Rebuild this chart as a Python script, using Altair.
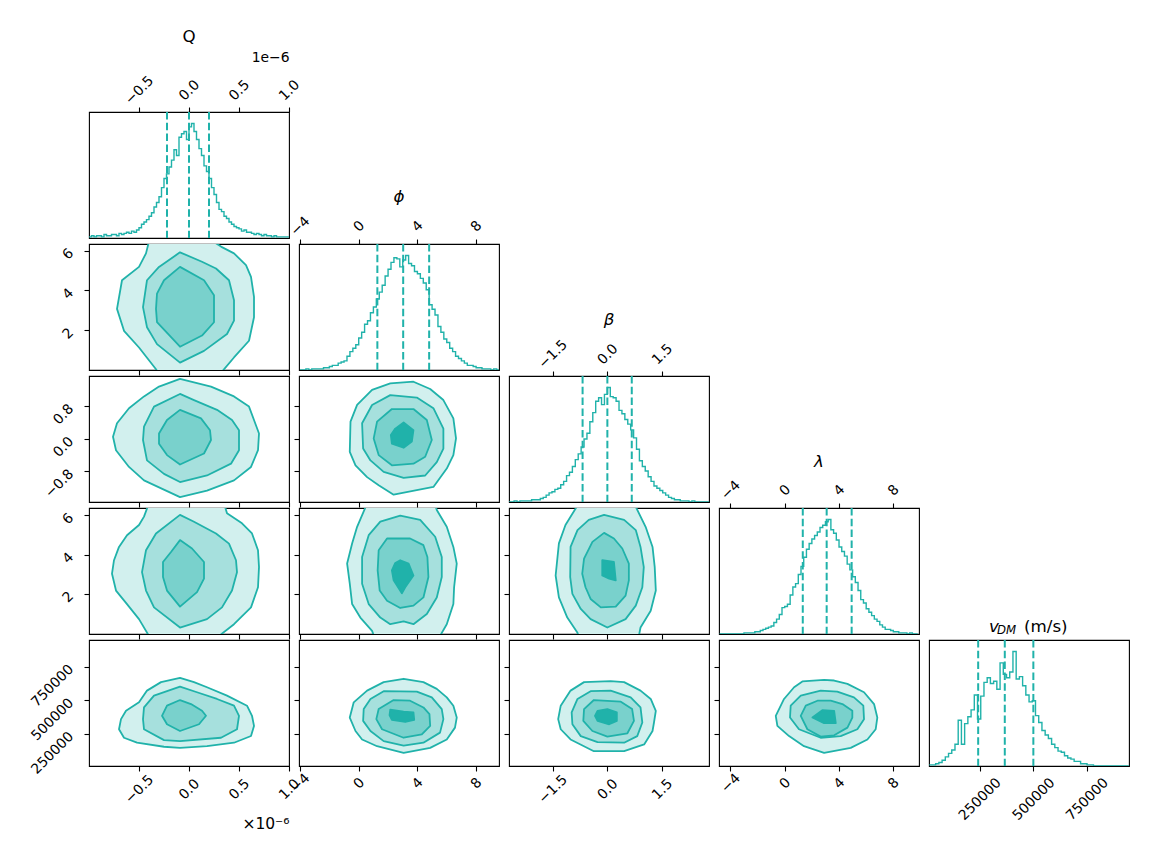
import altair as alt
import pandas as pd

FONT = "DejaVu Sans"
TEAL = "#20b2aa"
FILLS = ["#d2f0ee", "#a6e0dd", "#79d1cc", "#20b2aa"]
W, H = 200, 126
LABEL_SIZE = 13.9
TITLE_SIZE = 16.7
MINUS = "replace(datum.label, '-', '\u2212')"

# ---------------- axis ranges and ticks (Q in units of 1e-6) ----------------
X_DOM = [[-1.0, 1.0], [-4.07, 9.56], [-2.70, 2.79], [-4.84, 9.89], [14000, 945500]]
Y_DOM = [[0, 1], [0.0, 6.33], [-1.55, 1.54], [-0.06, 6.38], [12000, 948000]]
X_TICKS = [[-0.5, 0.0, 0.5, 1.0], [-4, 0, 4, 8], [-1.5, 0.0, 1.5], [-4, 0, 4, 8], [250000, 500000, 750000]]
Y_TICKS = [[], [2, 4, 6], [-0.8, 0.0, 0.8], [2, 4, 6], [250000, 500000, 750000]]
X_FMT = [".1f", "d", ".1f", "d", "d"]
Y_FMT = ["d", "d", ".1f", "d", "d"]

# ---------------- 1-D histograms (relative counts, max = 100) ----------------
Q_START, Q_WIDTH = -1.0, 0.025
Q_COUNTS = [1, 2, 1, 2, 2, 1, 3, 2, 2, 3,
            3, 2, 4, 3, 4, 5, 4, 6, 5, 7,
            9, 12, 14, 16, 19, 22, 27, 31,
            36, 44, 52, 56, 62, 68, 77, 72, 88, 91, 93, 86,
            97, 100, 93, 86, 78, 72, 63, 58, 52, 44,
            38, 31, 25, 23, 19, 17, 14, 12, 10, 9,
            8, 6, 7, 5, 5, 4, 3, 4, 3, 2,
            3, 2, 2, 1, 2, 1, 1, 1, 1, 1]

PHI_START, PHI_WIDTH = -4.0, 0.2
PHI_COUNTS = [0, 0, 1, 0, 1, 1, 1, 1, 2, 2,
              3, 4, 4, 6, 7, 8, 12, 16, 19, 22,
              28, 33, 40, 43, 50, 55, 62, 68, 74, 82,
              88, 94, 98, 97, 90, 96, 100, 93, 91, 86,
              84, 80, 76, 70, 57, 53, 48, 38, 33, 27,
              24, 19, 16, 12, 10, 8, 6, 4, 4, 3,
              2, 2, 1, 1, 1, 0, 1, 0]

BETA_START, BETA_WIDTH = -2.72, 0.08
BETA_COUNTS = [0, 0, 1, 0, 1, 1, 1, 1, 2, 2,
               2, 3, 4, 6, 8, 9, 11, 12, 15, 18,
               23, 26, 31, 37, 42, 48, 55, 60, 70, 78,
               88, 91, 85, 94, 100, 92, 91, 88, 80, 77,
               72, 68, 63, 56, 46, 36, 31, 27, 22, 18,
               14, 12, 10, 8, 6, 4, 3, 2, 2, 1,
               1, 1, 0, 1, 0, 0, 0, 0, 0]

LAM_START, LAM_WIDTH = -4.8, 0.2
LAM_COUNTS = [0, 0, 0, 0, 0, 0, 0, 0, 0, 1,
              1, 1, 1, 2, 2, 3, 4, 5, 6, 7,
              10, 13, 17, 23, 24, 26, 34, 41, 44, 52,
              59, 67, 74, 79, 83, 86, 89, 93, 95, 98,
              100, 91, 88, 82, 76, 72, 68, 61, 56, 50,
              45, 38, 30, 27, 22, 19, 16, 13, 11, 8,
              6, 4, 4, 3, 2, 2, 1, 1, 1, 0,
              1, 0, 0]

V_START, V_WIDTH = 15000, 15000
V_COUNTS = [1, 1, 2, 3, 5, 8, 11, 14, 19, 40,
            19, 37, 43, 49, 62, 41, 61, 73, 77, 72,
            74, 67, 90, 80, 77, 82, 100, 76, 78, 70,
            62, 56, 57, 44, 38, 31, 27, 24, 19, 16,
            13, 12, 9, 7, 6, 4, 4, 2, 2, 1,
            1, 0, 0, 0, 0, 0, 0, 0, 0, 0,
            0, 0]

HISTS = [(Q_START, Q_WIDTH, Q_COUNTS), (PHI_START, PHI_WIDTH, PHI_COUNTS),
         (BETA_START, BETA_WIDTH, BETA_COUNTS), (LAM_START, LAM_WIDTH, LAM_COUNTS),
         (V_START, V_WIDTH, V_COUNTS)]

# 16 / 50 / 84 % quantiles
Q_QUANT = [-0.22, 0.0, 0.20]
PHI_QUANT = [1.27, 3.03, 4.80]
BETA_QUANT = [-0.68, 0.0, 0.67]
LAM_QUANT = [1.33, 3.09, 4.93]
V_QUANT = [243000, 367000, 500000]
QUANTS = [Q_QUANT, PHI_QUANT, BETA_QUANT, LAM_QUANT, V_QUANT]

# ---------------- 2-D contour outlines (outer -> inner) ----------------
QPHI_1 = [(-0.38, 6.87), (-0.43, 5.86), (-0.50, 5.18), (-0.67, 4.51), (-0.72, 3.07), (-0.65, 1.97), (-0.50, 1.13),
          (-0.33, 0.04), (-0.28, -0.38), (-0.02, -0.55), (0.28, -0.38), (0.45, 0.63), (0.60, 1.47), (0.65, 2.65),
          (0.65, 3.67), (0.62, 4.68), (0.57, 5.27), (0.45, 5.86), (0.32, 6.20), (0.22, 6.53), (-0.08, 6.87)]
QPHI_2 = [(-0.09, 5.91), (-0.30, 5.18), (-0.42, 4.51), (-0.46, 3.16), (-0.42, 2.15), (-0.32, 1.30), (-0.09, 0.37),
          (0.15, 0.96), (0.38, 1.81), (0.45, 2.48), (0.45, 3.50), (0.40, 4.51), (0.27, 5.10), (0.13, 5.44)]
QPHI_3 = [(-0.09, 5.18), (-0.25, 4.51), (-0.32, 3.84), (-0.33, 3.07), (-0.32, 2.40), (-0.09, 1.17), (0.13, 1.73),
          (0.25, 2.40), (0.25, 3.75), (0.15, 4.51)]

QBETA_1 = [(-0.09, 1.47), (-0.30, 1.28), (-0.45, 1.04), (-0.60, 0.75), (-0.72, 0.38), (-0.76, 0.05), (-0.73, -0.28),
           (-0.60, -0.69), (-0.45, -1.02), (-0.09, -1.43), (0.18, -1.27), (0.45, -1.02), (0.62, -0.69),
           (0.69, -0.28), (0.70, 0.13), (0.65, 0.46), (0.60, 0.79), (0.45, 1.04), (0.22, 1.28)]
QBETA_2 = [(-0.09, 1.10), (-0.35, 0.79), (-0.45, 0.30), (-0.46, -0.03), (-0.42, -0.53), (-0.25, -0.86),
           (-0.09, -1.06), (0.18, -0.90), (0.42, -0.61), (0.50, -0.28), (0.50, 0.21), (0.43, 0.46), (0.28, 0.71),
           (0.05, 0.95)]
QBETA_3 = [(-0.09, 0.71), (-0.22, 0.46), (-0.30, 0.13), (-0.30, -0.12), (-0.22, -0.40), (-0.09, -0.63),
           (0.15, -0.36), (0.22, -0.03), (0.21, 0.21), (0.12, 0.50)]

QLAM_1 = [(-0.40, 6.63), (-0.45, 5.94), (-0.50, 5.51), (-0.62, 4.99), (-0.70, 4.39), (-0.75, 3.71), (-0.77, 3.02),
          (-0.73, 2.16), (-0.62, 1.47), (-0.50, 0.70), (-0.40, -0.16), (-0.37, -0.59), (0.28, -0.59), (0.30, -0.16),
          (0.45, 0.44), (0.62, 1.30), (0.69, 2.33), (0.70, 3.36), (0.69, 4.22), (0.63, 5.08), (0.53, 5.60),
          (0.38, 6.11), (0.35, 6.63)]
QLAM_2 = [(-0.09, 6.03), (-0.33, 5.08), (-0.43, 4.22), (-0.47, 3.10), (-0.43, 2.16), (-0.35, 1.30), (-0.09, 0.27),
          (0.18, 0.70), (0.33, 1.30), (0.43, 2.16), (0.48, 3.10), (0.47, 3.71), (0.40, 4.56), (0.27, 5.08),
          (0.05, 5.68)]
QLAM_3 = [(-0.09, 4.74), (-0.18, 4.13), (-0.26, 3.62), (-0.26, 2.85), (-0.22, 2.16), (-0.09, 1.34), (0.08, 2.08),
          (0.15, 2.77), (0.15, 3.62), (0.03, 4.31)]

QV_1 = [(-0.09, 667000), (-0.28, 635000), (-0.42, 572000), (-0.50, 485000), (-0.63, 422000), (-0.68, 360000),
        (-0.70, 285000), (-0.65, 222000), (-0.52, 185000), (-0.25, 155000), (-0.09, 147000), (0.18, 160000),
        (0.45, 185000), (0.62, 235000), (0.65, 310000), (0.63, 385000), (0.58, 460000), (0.38, 535000),
        (0.18, 597000), (0.05, 635000)]
QV_2 = [(-0.09, 602000), (-0.35, 535000), (-0.45, 447000), (-0.46, 360000), (-0.45, 285000), (-0.25, 204000),
        (-0.09, 197000), (0.32, 222000), (0.48, 285000), (0.50, 385000), (0.45, 460000), (0.28, 510000),
        (0.08, 560000)]
QV_3 = [(-0.09, 502000), (-0.22, 460000), (-0.27, 385000), (-0.22, 322000), (-0.09, 272000), (0.10, 322000),
        (0.17, 385000), (0.13, 422000), (0.02, 472000)]

PB_1 = [(2.15, 1.36), (0.91, 1.20), (-0.11, 0.83), (-0.56, 0.42), (-0.61, -0.32), (-0.22, -0.65), (0.57, -0.94),
        (1.36, -1.14), (2.38, -1.37), (5.09, -1.18), (6.00, -0.73), (6.45, -0.40), (6.63, 0.01), (6.45, 0.50),
        (5.77, 0.95), (4.87, 1.22), (3.73, 1.40)]
PB_2 = [(2.15, 1.07), (0.91, 0.83), (0.23, 0.38), (0.30, -0.24), (0.80, -0.53), (1.70, -0.81), (3.06, -0.96),
        (4.53, -0.90), (5.32, -0.57), (5.77, -0.24), (5.77, 0.25), (5.09, 0.75), (3.96, 1.01)]
PB_3 = [(2.26, 0.73), (1.25, 0.42), (1.02, 0.01), (1.36, -0.40), (2.26, -0.65), (3.73, -0.61), (4.53, -0.44),
        (4.98, -0.03), (4.64, 0.46), (3.73, 0.73)]
PB_4 = [(3.06, 0.40), (2.49, 0.25), (2.19, 0.09), (2.26, -0.12), (3.06, -0.22), (3.62, -0.07), (3.73, 0.21)]

PL_1 = [(0.68, 6.80), (-0.11, 5.42), (-0.45, 4.57), (-0.79, 3.54), (-0.61, 2.51), (-0.45, 1.47), (0.11, 0.78),
        (0.91, 0.10), (1.25, -0.59), (5.21, -0.59), (6.00, 0.44), (6.45, 1.47), (6.50, 2.33), (6.68, 3.54),
        (6.45, 4.39), (6.00, 5.42), (5.32, 6.28), (5.09, 6.80)]
PL_2 = [(2.83, 5.99), (1.47, 5.68), (0.68, 4.99), (0.23, 3.88), (0.23, 2.51), (0.68, 1.47), (1.47, 0.78),
        (2.15, 0.44), (3.06, 0.58), (3.73, 0.44), (4.64, 0.96), (5.32, 1.81), (5.66, 2.85), (5.66, 3.88),
        (5.21, 4.91), (4.19, 5.77)]
PL_3 = [(1.93, 4.82), (1.36, 4.22), (1.29, 3.19), (1.43, 2.16), (1.93, 1.64), (2.83, 1.27), (3.73, 1.39),
        (4.41, 1.81), (4.75, 2.85), (4.68, 3.88), (4.41, 4.48), (3.50, 4.82)]
PL_4 = [(2.83, 3.71), (3.40, 3.54), (3.73, 2.93), (3.17, 2.33), (2.94, 2.02), (2.38, 2.68), (2.26, 3.19),
        (2.49, 3.57)]

PV_1 = [(3.06, 660000), (1.70, 635000), (0.57, 572000), (-0.34, 485000), (-0.61, 372000), (-0.22, 272000),
        (0.23, 209000), (1.25, 159000), (3.06, 110000), (4.87, 147000), (6.00, 209000), (6.56, 297000),
        (6.68, 372000), (6.45, 460000), (6.00, 522000), (5.32, 585000), (4.41, 635000)]
PV_2 = [(1.70, 568000), (0.80, 510000), (0.34, 435000), (0.30, 347000), (0.80, 272000), (1.70, 197000),
        (3.06, 164000), (4.41, 185000), (5.54, 260000), (5.77, 360000), (5.66, 435000), (4.98, 522000),
        (3.96, 565000)]
PV_3 = [(2.38, 502000), (1.36, 435000), (1.20, 360000), (1.59, 285000), (3.06, 222000), (4.30, 247000),
        (4.87, 310000), (4.82, 397000), (4.41, 447000), (3.50, 497000)]
PV_4 = [(2.15, 430000), (3.06, 415000), (3.73, 410000), (3.78, 354000), (3.17, 339000), (2.26, 354000),
        (2.10, 390000)]

BL_1 = [(-0.78, 6.63), (-1.15, 5.51), (-1.33, 4.57), (-1.42, 2.93), (-1.33, 1.81), (-1.10, 0.78), (-0.82, 0.01),
        (-0.73, -0.59), (0.82, -0.59), (0.91, 0.27), (1.19, 1.13), (1.33, 2.16), (1.30, 3.36), (1.24, 4.39),
        (1.05, 5.42), (0.73, 6.63)]
BL_2 = [(-0.09, 6.03), (-0.51, 5.77), (-0.82, 5.25), (-1.01, 4.39), (-1.02, 2.85), (-0.96, 1.99), (-0.73, 1.22),
        (-0.46, 0.70), (0.0, 0.27), (0.50, 0.70), (0.78, 1.39), (0.96, 2.33), (1.00, 3.36), (0.91, 4.39),
        (0.78, 5.25), (0.46, 5.77)]
BL_3 = [(-0.09, 5.11), (-0.41, 4.65), (-0.64, 3.79), (-0.69, 3.02), (-0.60, 2.33), (-0.46, 1.73), (-0.18, 1.30),
        (0.23, 1.34), (0.50, 1.90), (0.59, 2.68), (0.59, 3.54), (0.41, 4.31), (0.18, 4.82)]
BL_4 = [(-0.14, 3.71), (0.18, 3.62), (0.23, 2.68), (0.05, 2.77), (-0.14, 2.93)]

BV_1 = [(0.09, 643000), (-0.64, 635000), (-1.01, 572000), (-1.28, 460000), (-1.35, 360000), (-1.28, 285000),
        (-1.01, 209000), (-0.37, 122000), (0.46, 122000), (1.01, 172000), (1.24, 272000), (1.28, 335000),
        (1.33, 422000), (1.19, 510000), (0.91, 572000), (0.46, 635000)]
BV_2 = [(-0.46, 568000), (-0.82, 510000), (-0.98, 410000), (-0.96, 322000), (-0.73, 234000), (-0.27, 189000),
        (0.46, 185000), (0.82, 234000), (0.96, 335000), (0.91, 447000), (0.64, 522000), (0.09, 572000)]
BV_3 = [(-0.37, 502000), (-0.64, 435000), (-0.66, 347000), (-0.41, 272000), (0.0, 230000), (0.55, 255000),
        (0.73, 347000), (0.68, 435000), (0.37, 490000)]
BV_4 = [(-0.27, 422000), (0.0, 435000), (0.26, 410000), (0.26, 347000), (0.05, 322000), (-0.27, 347000),
        (-0.34, 385000)]

LV_1 = [(2.90, 652000), (1.30, 640000), (0.69, 597000), (-0.05, 510000), (-0.66, 385000), (-0.54, 310000),
        (0.32, 234000), (1.42, 159000), (2.90, 110000), (4.86, 147000), (6.09, 209000), (6.70, 285000),
        (6.82, 372000), (6.58, 472000), (5.84, 560000), (4.62, 622000), (3.64, 647000)]
LV_2 = [(2.65, 572000), (1.18, 535000), (0.44, 460000), (0.39, 372000), (1.05, 285000), (2.65, 222000),
        (4.12, 234000), (5.35, 285000), (5.84, 360000), (5.79, 460000), (5.10, 522000), (3.87, 565000)]
LV_3 = [(2.41, 497000), (1.55, 460000), (1.18, 385000), (1.67, 285000), (2.65, 230000), (3.64, 240000),
        (4.62, 297000), (4.98, 372000), (4.98, 422000), (4.25, 472000), (3.39, 497000)]
LV_4 = [(2.77, 427000), (3.64, 422000), (3.76, 330000), (2.90, 330000), (2.04, 372000)]

CONTOURS = {
    (1, 0): [QPHI_1, QPHI_2, QPHI_3],
    (2, 0): [QBETA_1, QBETA_2, QBETA_3],
    (3, 0): [QLAM_1, QLAM_2, QLAM_3],
    (4, 0): [QV_1, QV_2, QV_3],
    (2, 1): [PB_1, PB_2, PB_3, PB_4],
    (3, 1): [PL_1, PL_2, PL_3, PL_4],
    (4, 1): [PV_1, PV_2, PV_3, PV_4],
    (3, 2): [BL_1, BL_2, BL_3, BL_4],
    (4, 2): [BV_1, BV_2, BV_3, BV_4],
    (4, 3): [LV_1, LV_2, LV_3, LV_4],
}

# ---------------- styling of labels ----------------
TOP_PAD = [17, 13, 17, 13]
BOTTOM_PAD = [18, 12, 18, 12, 28]
LEFT_PAD = 13


def base_axis(orient, values, fmt, show, pad, **extra):
    props = dict(orient=orient, values=values, format=fmt, labels=show, title="", grid=False, domain=False,
                 ticks=True, tickSize=5, tickWidth=1.1, tickColor="black")
    if show:
        props.update(labelAngle=-45, labelPadding=pad, labelExpr=MINUS, labelFont=FONT,
                     labelFontSize=LABEL_SIZE, labelColor="black", labelOverlap=False,
                     labelFlush=False, labelBound=False)
        if orient in ("top", "bottom"):
            props.update(labelAlign="center", labelBaseline="middle")
        else:
            props.update(labelAlign="right", labelBaseline="middle")
    props.update(extra)
    return alt.Axis(**props)


def title_layer(text, x, y, size=TITLE_SIZE, style="normal", align="center"):
    return alt.Chart(pd.DataFrame({"t": [text]})).mark_text(
        font=FONT, fontSize=size, fontStyle=style, color="black", align=align, baseline="alphabetic"
    ).encode(text="t:N", x=alt.value(x), y=alt.value(y))


def hist_panel(c):
    start, width, counts = HISTS[c]
    xs = [start + width * i for i in range(len(counts) + 1)]
    ys = list(counts) + [counts[-1]]
    df = pd.DataFrame({"x": xs, "y": ys})
    xscale = alt.Scale(domain=X_DOM[c], nice=False, zero=False)
    if c < 4:
        extra = {}
        if c == 0:
            extra = dict(title="1e\u22126", titleX=W, titleY=-55, titleAlign="right", titleBaseline="middle",
                         titleAngle=0, titleFont=FONT, titleFontSize=LABEL_SIZE, titleFontWeight="normal",
                         titleColor="black")
        xaxis = base_axis("top", X_TICKS[c], X_FMT[c], True, TOP_PAD[c], **extra)
    else:
        xaxis = base_axis("bottom", X_TICKS[c], X_FMT[c], True, BOTTOM_PAD[c])
    line = alt.Chart(df).mark_line(interpolate="step-after", color=TEAL, strokeWidth=1.4, clip=True).encode(
        x=alt.X("x:Q", scale=xscale, axis=xaxis),
        y=alt.Y("y:Q", scale=alt.Scale(domain=[0, 110], nice=False), axis=None),
    )
    rules = alt.Chart(pd.DataFrame({"x": QUANTS[c]})).mark_rule(
        color=TEAL, strokeWidth=2, strokeDash=[7.5, 3.3]
    ).encode(x=alt.X("x:Q", scale=xscale, axis=xaxis))
    layers = [line, rules]
    if c == 0:
        layers.append(title_layer("Q", W / 2, -70))
    elif c == 1:
        layers.append(title_layer("\u03d5", W / 2, -42, style="italic"))
    elif c == 2:
        layers.append(title_layer("\u03b2", W / 2, -51, style="italic"))
    elif c == 3:
        layers.append(title_layer("\u03bb", W / 2, -41, style="italic"))
    else:
        layers.append(title_layer("v", 60, -8.5, style="italic", align="left"))
        layers.append(title_layer("DM", 68, -6, size=11.7, style="italic", align="left"))
        layers.append(title_layer("(m/s)", 95, -8.5, align="left"))
    return alt.layer(*layers).properties(width=W, height=H)


def contour_panel(r, c):
    xscale = alt.Scale(domain=X_DOM[c], nice=False, zero=False)
    yscale = alt.Scale(domain=Y_DOM[r], nice=False, zero=False)
    xextra = {}
    if r == 4 and c == 0:
        xextra = dict(title="\u00d710\u207b\u2076", titleX=W, titleY=57, titleAlign="right",
                      titleBaseline="middle", titleAngle=0, titleFont=FONT, titleFontSize=15.5,
                      titleFontWeight="normal", titleColor="black")
    xaxis = base_axis("bottom", X_TICKS[c], X_FMT[c], r == 4, BOTTOM_PAD[c], **xextra)
    yaxis = base_axis("left", Y_TICKS[r], Y_FMT[r], c == 0, LEFT_PAD)
    layers = []
    for k, poly in enumerate(CONTOURS[(r, c)]):
        df = pd.DataFrame({"x": [p[0] for p in poly], "y": [p[1] for p in poly], "i": list(range(len(poly)))})
        layers.append(
            alt.Chart(df).mark_line(interpolate="linear-closed", fill=FILLS[k], stroke=TEAL, strokeWidth=1.8,
                                    strokeJoin="round", clip=True).encode(
                x=alt.X("x:Q", scale=xscale, axis=xaxis),
                y=alt.Y("y:Q", scale=yscale, axis=yaxis),
                order="i:Q",
            )
        )
    return alt.layer(*layers).properties(width=W, height=H)


def blank_panel():
    return alt.Chart(pd.DataFrame({"a": [0]})).mark_point(opacity=0).encode(
        x=alt.value(0), y=alt.value(0)
    ).properties(width=W, height=H, view=alt.ViewBackground(stroke="transparent"))


cells = []
for r in range(5):
    for c in range(5):
        if c > r:
            cells.append(blank_panel())
        elif c == r:
            cells.append(hist_panel(c))
        else:
            cells.append(contour_panel(r, c))

chart = alt.concat(*cells, columns=5, spacing={"row": 6, "column": 10}, bounds="flush").configure_view(
    stroke="black", strokeWidth=1.1
).properties(padding={"left": 20, "top": 20, "right": 5, "bottom": 5})

chart.save("out.html", embed_options={"renderer": "svg", "actions": False})
